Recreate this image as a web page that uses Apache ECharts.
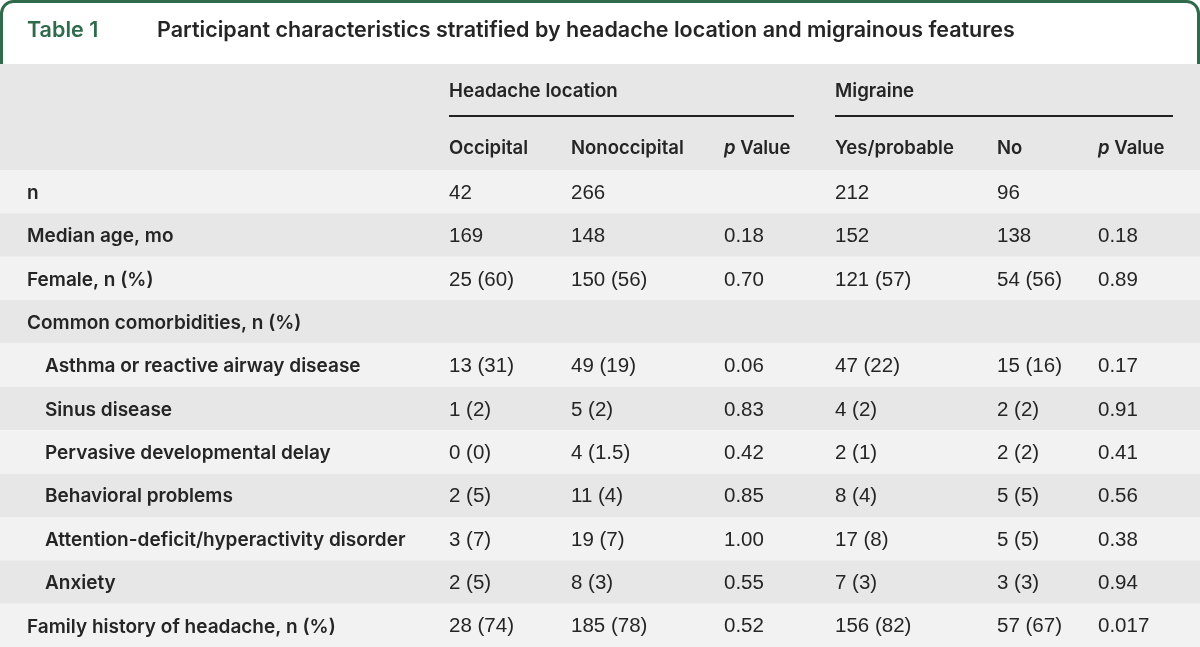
<!DOCTYPE html>
<html><head><meta charset="utf-8">
<script src="https://cdn.jsdelivr.net/npm/echarts@6/dist/echarts.min.js"></script>
<style>html,body{margin:0;padding:0;background:#fff}#c{width:1200px;height:647px}</style>
</head><body><div id="c"></div>
<script>
const titleLabel = 'Table 1';
const titleText = 'Participant characteristics stratified by headache location and migrainous features';
const groupHeaders = ['Headache location', 'Migraine'];
const columnHeaders = ['Occipital', 'Nonoccipital', 'p Value', 'Yes/probable', 'No', 'p Value'];
const rowLabels = ['n','Median age, mo','Female, n (%)','Common comorbidities, n (%)','Asthma or reactive airway disease','Sinus disease','Pervasive developmental delay','Behavioral problems','Attention-deficit/hyperactivity disorder','Anxiety','Family history of headache, n (%)'];
const rowIndented = [false,false,false,false,true,true,true,true,true,true,false];
const occipital = ['42','169','25 (60)','','13 (31)','1 (2)','0 (0)','2 (5)','3 (7)','2 (5)','28 (74)'];
const nonoccipital = ['266','148','150 (56)','','49 (19)','5 (2)','4 (1.5)','11 (4)','19 (7)','8 (3)','185 (78)'];
const pLocation = ['','0.18','0.70','','0.06','0.83','0.42','0.85','1.00','0.55','0.52'];
const yesProbable = ['212','152','121 (57)','','47 (22)','4 (2)','2 (1)','8 (4)','17 (8)','7 (3)','156 (82)'];
const noMigraine = ['96','138','54 (56)','','15 (16)','2 (2)','2 (2)','5 (5)','5 (5)','3 (3)','57 (67)'];
const pMigraine = ['','0.18','0.89','','0.17','0.91','0.41','0.56','0.38','0.94','0.017'];

// layout (style, not data)
const colX = [449, 571, 724, 835, 997, 1098];
const labelX = 27, indentX = 45;
const green = '#2f6a4b';
const labelFont = '"Inter", "Noto Sans", sans-serif';
const dataFont = '"Liberation Sans", "Noto Sans", sans-serif';
const ink = '#252525';

const columns = [occipital, nonoccipital, pLocation, yesProbable, noMigraine, pMigraine];
const chart = echarts.init(document.getElementById('c'), null, {renderer: 'canvas'});

chart.setOption({
  animation: false,
  backgroundColor: '#ffffff',
  grid: {left: 0, right: 0, top: 170, bottom: 0},
  xAxis: {type: 'value', min: 0, max: 1200, show: false},
  yAxis: {type: 'category', data: rowLabels, inverse: true, show: false},
  graphic: [
    {type: 'rect', shape: {x: 1.5, y: 1.5, width: 1197, height: 80, r: [12, 12, 0, 0]},
     style: {fill: '#ffffff', stroke: green, lineWidth: 3}, z: 1},
    {type: 'rect', shape: {x: 0, y: 64, width: 1200, height: 106}, style: {fill: '#e6e7e6'}, z: 2},
    {type: 'text', x: labelX, y: 31, style: {text: titleLabel, fill: green, font: '600 21.5px ' + labelFont, textVerticalAlign: 'middle'}, z: 3},
    {type: 'text', x: 157, y: 31, style: {text: titleText, fill: ink, font: '600 21.5px ' + labelFont, textVerticalAlign: 'middle'}, z: 3},
    {type: 'text', x: colX[0], y: 91, style: {text: groupHeaders[0], fill: ink, font: '600 18.7px ' + labelFont, textVerticalAlign: 'middle'}, z: 3},
    {type: 'text', x: colX[3], y: 91, style: {text: groupHeaders[1], fill: ink, font: '600 18.7px ' + labelFont, textVerticalAlign: 'middle'}, z: 3},
    {type: 'line', shape: {x1: colX[0], y1: 116, x2: 794, y2: 116}, style: {stroke: '#222', lineWidth: 2}, z: 3},
    {type: 'line', shape: {x1: colX[3], y1: 116, x2: 1173, y2: 116}, style: {stroke: '#222', lineWidth: 2}, z: 3},
  ].concat(columnHeaders.map((h, i) => {
    const isP = h.indexOf('p ') === 0;
    return {type: 'text', x: colX[i], y: 148, z: 3,
      style: {text: isP ? '{i|p} Value' : h, fill: ink, font: '600 18.5px ' + labelFont, textVerticalAlign: 'middle',
        rich: {i: {fontStyle: 'italic', fontWeight: 600, fontSize: 18.5, fontFamily: labelFont, fill: ink}}}};
  })),
  series: [
    {
      type: 'custom',
      coordinateSystem: 'cartesian2d',
      data: rowLabels.map((l, i) => [0, i]),
      silent: true,
      z: 1,
      renderItem: function (params, api) {
        const i = api.value(1);
        const c = api.coord([0, i]);
        const h = api.size([0, 1])[1];
        return {type: 'rect', shape: {x: 0, y: c[1] - h / 2, width: 1200, height: h},
          style: {fill: i % 2 === 0 ? '#f2f2f2' : '#e6e7e6'}};
      }
    },
    {
      type: 'custom',
      coordinateSystem: 'cartesian2d',
      data: rowLabels.map((l, i) => [0, i]),
      silent: true,
      z: 2,
      renderItem: function (params, api) {
        const i = api.value(1);
        const c = api.coord([0, i]);
        const children = [{
          type: 'text', x: rowIndented[i] ? indentX : labelX, y: c[1] + 1.5,
          style: {text: rowLabels[i], fill: ink, font: '600 19px ' + labelFont, textVerticalAlign: 'middle'}
        }];
        columns.forEach((col, k) => {
          if (col[i]) children.push({type: 'text', x: api.coord([colX[k], i])[0], y: c[1] + 1.5,
            style: {text: col[i], fill: ink, font: '20.5px ' + dataFont, textVerticalAlign: 'middle'}});
        });
        return {type: 'group', children: children};
      }
    }
  ]
});
</script></body></html>
